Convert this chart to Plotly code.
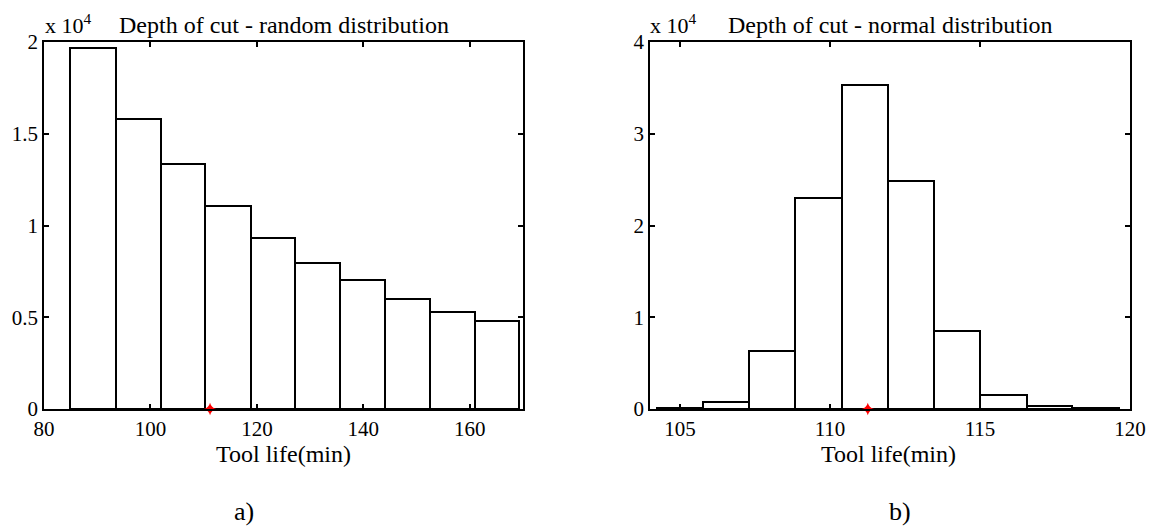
import plotly.graph_objects as go

# ---- data (panel a: random distribution) ----
edges_a = [84.9, 93.5, 102.0, 110.2, 118.9, 127.1, 135.6, 144.0, 152.5, 160.9, 169.2]
counts_a = [19670, 15800, 13350, 11060, 9340, 7970, 7030, 5980, 5300, 4810]
mean_a = 111.2

# ---- data (panel b: normal distribution) ----
edges_b = [104.24, 105.78, 107.30, 108.84, 110.39, 111.93, 113.46, 114.99, 116.55, 118.08, 119.64]
counts_b = [150, 740, 6360, 23000, 35300, 24800, 8540, 1580, 300, 150]
mean_b = 111.26

xticks_a = [80, 100, 120, 140, 160]
yticks_a = [0, 0.5, 1, 1.5, 2]
xticks_b = [105, 110, 115, 120]
yticks_b = [0, 1, 2, 3, 4]

title_a = "Depth of cut - random distribution"
title_b = "Depth of cut - normal distribution"
xlabel = "Tool life(min)"
scale = 1e4

FONT = "Liberation Serif"
W, H = 1155, 526


def px(x):
    return x / W


def py(y):
    return (H - y) / H


def bars(edges, counts, xa, ya):
    centers = [(edges[i] + edges[i + 1]) / 2 for i in range(len(counts))]
    widths = [edges[i + 1] - edges[i] for i in range(len(counts))]
    return go.Bar(
        x=centers, y=[c / scale for c in counts], width=widths,
        marker=dict(color="white", line=dict(color="black", width=2)),
        xaxis=xa, yaxis=ya, showlegend=False, hoverinfo="skip",
    )


fig = go.Figure()
fig.add_trace(bars(edges_a, counts_a, "x", "y"))
fig.add_trace(bars(edges_b, counts_b, "x2", "y2"))
fig.add_trace(go.Scatter(x=[mean_a], y=[0], mode="markers", xaxis="x", yaxis="y",
                         marker=dict(color="red", symbol="star-diamond", size=9),
                         cliponaxis=False, showlegend=False, hoverinfo="skip"))
fig.add_trace(go.Scatter(x=[mean_b], y=[0], mode="markers", xaxis="x2", yaxis="y2",
                         marker=dict(color="red", symbol="star-diamond", size=9),
                         cliponaxis=False, showlegend=False, hoverinfo="skip"))

ax_common = dict(showline=True, linecolor="black", linewidth=1.5, mirror="ticks",
                 ticks="inside", ticklen=5, tickwidth=1.5, tickcolor="black",
                 showgrid=False, zeroline=False, automargin=False,
                 tickfont=dict(family=FONT, size=21, color="black"))

dom_a = [px(44), px(523)]
dom_b = [px(650), px(1130)]
dom_y = [py(409), py(42)]

fig.update_layout(
    width=W, height=H, autosize=False,
    margin=dict(l=0, r=0, t=0, b=0, pad=0),
    paper_bgcolor="white", plot_bgcolor="white",
    bargap=0,
    font=dict(family=FONT, color="black"),
    xaxis=dict(domain=dom_a, range=[80, 170], tickvals=xticks_a, anchor="y", **ax_common),
    yaxis=dict(domain=dom_y, range=[0, 2], tickvals=yticks_a,
               ticktext=[f"{v:g}" for v in yticks_a], anchor="x", **ax_common),
    xaxis2=dict(domain=dom_b, range=[104, 120], tickvals=xticks_b, anchor="y2", **ax_common),
    yaxis2=dict(domain=dom_y, range=[0, 4], tickvals=yticks_b, anchor="x2", **ax_common),
)

ann = []


def add_text(text, x, y, size, xanchor="center"):
    ann.append(dict(text=text, x=px(x), y=py(y), xref="paper", yref="paper",
                    xanchor=xanchor, yanchor="middle", showarrow=False,
                    font=dict(family=FONT, size=size, color="black")))


add_text(title_a, 283.5, 25, 24)
add_text(title_b, 890, 25, 24)
add_text("x 10<sup>4</sup>", 43, 24, 22, xanchor="left")
add_text("x 10<sup>4</sup>", 648, 24, 22, xanchor="left")
add_text(xlabel, 283.5, 454, 24)
add_text(xlabel, 888, 454, 24)
add_text("a)", 244, 511, 26)
add_text("b)", 900, 511, 26)
fig.update_layout(annotations=ann)

fig.write_html("out.html")
